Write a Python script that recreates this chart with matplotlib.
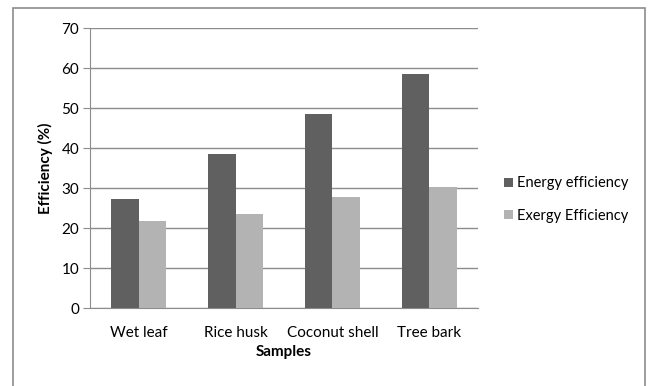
import numpy as np
import matplotlib.pyplot as plt
from matplotlib.patches import Rectangle

samples = ["Wet leaf", "Rice husk", "Coconut shell", "Tree bark"]
energy_eff = [27.3, 38.5, 48.6, 58.6]
exergy_eff = [21.9, 23.6, 27.8, 30.3]
series_names = ["Energy efficiency", "Exergy Efficiency"]

plt.rcParams['font.family'] = ['Lato', 'DejaVu Sans']

fig = plt.figure(figsize=(6.5, 3.86), dpi=100)
W, H = 650, 386
# plot area in pixels: left, top, right, bottom
px_l, px_t, px_r, px_b = 90.3, 28.3, 477.7, 308.3
ax = fig.add_axes([px_l / W, 1 - px_b / H, (px_r - px_l) / W, (px_b - px_t) / H])

# chart frame
fig.patches.append(Rectangle((13 / W, -0.2), (645 - 13) / W, 1.2 - 8 / H,
                             transform=fig.transFigure, fill=False,
                             edgecolor='#8c8c8c', linewidth=1.2))

x = np.arange(len(samples))
bw = 0.284
ax.bar(x - bw / 2, energy_eff, bw, color='#606060', label=series_names[0], zorder=3)
ax.bar(x + bw / 2, exergy_eff, bw, color='#b3b3b3', label=series_names[1], zorder=3)

ax.set_xlim(-0.5, len(samples) - 0.5)
ax.set_ylim(0, 70)
ax.set_yticks(range(0, 71, 10))
ax.set_xticks(x)
ax.set_xticklabels(samples)
ax.yaxis.grid(True, color='#8c8c8c', linewidth=1.0, zorder=0)
ax.set_axisbelow(True)

for s in ['top', 'right']:
    ax.spines[s].set_visible(False)
ax.spines['left'].set_color('#8c8c8c')
ax.spines['bottom'].set_color('#8c8c8c')
ax.tick_params(axis='y', length=5, color='#8c8c8c', labelsize=11, pad=3)
ax.tick_params(axis='x', length=0, labelsize=11, pad=13)

ax.set_ylabel("Efficiency (%)", fontsize=11, fontweight='bold', labelpad=6)
ax.set_xlabel("Samples", fontsize=11, fontweight='bold', labelpad=3)

ax.legend(loc='center left',
          bbox_to_anchor=((504 - px_l) / (px_r - px_l), (px_b - 199.5) / (px_b - px_t)),
          frameon=False, fontsize=10.5, handlelength=0.6, handleheight=0.6,
          handletextpad=0.3, labelspacing=1.25, borderaxespad=0, borderpad=0)

fig.savefig("out.png", dpi=100)
